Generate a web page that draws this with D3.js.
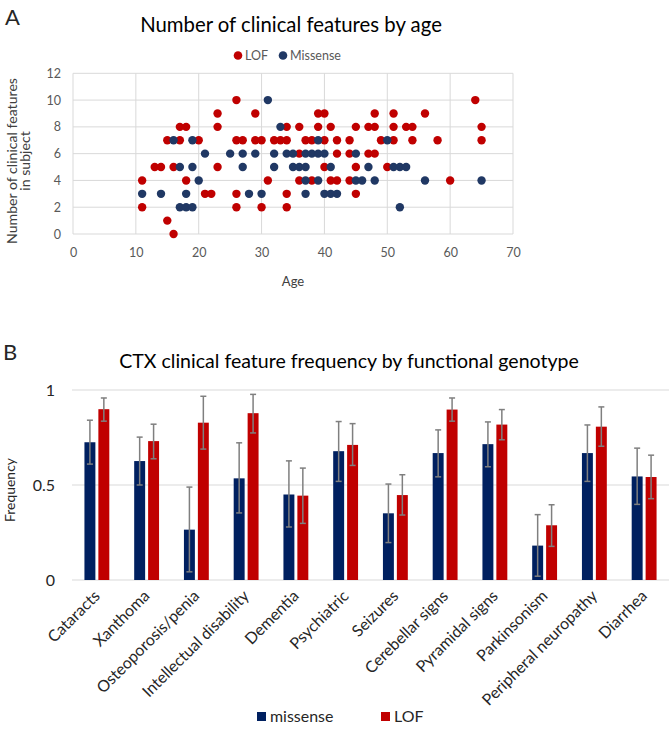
<!DOCTYPE html>
<html><head><meta charset="utf-8">
<script src="https://cdn.jsdelivr.net/npm/d3@7"></script>
<style>body{margin:0;background:#fff} svg{display:block} text{font-family:Lato,"Open Sans",sans-serif}</style>
</head><body><svg id="c" width="669" height="733"></svg>
<script>
// ---------- Panel A data ----------
const lofAge   = [23,17,18,23,15,17,20,13,14,16,23,11,18,21,22,11,15,16,
                  26,29,39,40,34,36,39,41,45,47,26,27,29,30,32,33,34,37,38,40,42,44,36,42,44,47,40,45,31,36,38,41,42,44,26,34,45,26,30,34,
                  64,48,51,56,48,51,53,54,65,49,51,54,58,65,48,50,60];
const lofCount = [9,8,8,8,7,7,7,5,5,5,5,4,4,3,3,2,1,0,
                  10,9,9,9,8,8,8,8,8,8,7,7,7,7,7,7,7,7,7,7,7,7,6,6,6,6,5,5,4,4,4,4,4,4,3,3,3,2,2,2,
                  10,9,9,9,8,8,8,8,8,7,7,7,7,7,6,5,4];
const misAge   = [16,19,21,17,19,20,11,14,18,17,18,19,
                  31,33,39,25,27,29,32,34,35,37,38,39,40,45,27,32,35,36,37,41,47,37,39,45,46,28,30,37,40,41,42,
                  50,51,52,53,48,56,65,52];
const misCount = [7,7,6,5,5,4,3,3,3,2,2,2,
                  10,8,7,6,6,6,6,6,6,6,6,6,6,6,5,5,5,5,5,5,5,4,4,4,4,3,3,3,3,3,3,
                  7,5,5,5,4,4,4,2];
const ageTicks   = [0,10,20,30,40,50,60,70];
const countTicks = [0,2,4,6,8,10,12];

// ---------- Panel B data ----------
const categories = ["Cataracts","Xanthoma","Osteoporosis/penia","Intellectual disability","Dementia","Psychiatric",
                    "Seizures","Cerebellar signs","Pyramidal signs","Parkinsonism","Peripheral neuropathy","Diarrhea"];
const seriesNames  = ["missense","LOF"];
const missenseFreq = [0.725,0.626,0.265,0.535,0.450,0.678,0.351,0.668,0.715,0.181,0.668,0.545];
const missenseLow  = [0.610,0.500,0.043,0.353,0.279,0.519,0.197,0.543,0.596,0.020,0.519,0.398];
const missenseHigh = [0.841,0.752,0.489,0.722,0.627,0.834,0.505,0.790,0.832,0.344,0.816,0.694];
const lofFreq      = [0.899,0.731,0.828,0.878,0.444,0.711,0.447,0.897,0.818,0.288,0.807,0.542];
const lofLow       = [0.836,0.638,0.689,0.774,0.298,0.603,0.342,0.836,0.738,0.177,0.704,0.428];
const lofHigh      = [0.958,0.820,0.967,0.977,0.589,0.823,0.554,0.958,0.897,0.396,0.911,0.657];
const freqTicks    = [0,0.5,1];

const RED = "#C00000", NAVY_BAR = "#002060", NAVY_DOT = "#203864", GRID = "#d9d9d9";
const svg = d3.select("#c");

function fitWidth(sel, w){
  const fs = parseFloat(sel.attr("font-size"));
  const cur = sel.node().getComputedTextLength();
  sel.attr("font-size", fs*w/cur);
  return fs*w/cur;
}

// ================= Panel A =================
svg.append("text").attr("x",5).attr("y",25).attr("font-size",22).attr("fill","#262626").text("A");
const titleA = svg.append("text").attr("x",291).attr("y",32).attr("text-anchor","middle")
  .attr("font-size",17).attr("fill","#000").text("Number of clinical features by age");
fitWidth(titleA, 302);

const xS = d3.scaleLinear().domain([0,70]).range([73,513]);
const yS = d3.scaleLinear().domain([0,12]).range([234,73.3]);

const gA = svg.append("g");
gA.selectAll(".vg").data(ageTicks).join("line")
  .attr("x1",d=>xS(d)).attr("x2",d=>xS(d)).attr("y1",yS(0)).attr("y2",yS(12))
  .attr("stroke",GRID).attr("stroke-width",1);
gA.selectAll(".hg").data(countTicks).join("line")
  .attr("x1",xS(0)).attr("x2",xS(70)).attr("y1",d=>yS(d)).attr("y2",d=>yS(d))
  .attr("stroke",GRID).attr("stroke-width",1);

const axXA = svg.append("g").attr("transform",`translate(0,${yS(0)+14})`)
  .call(d3.axisBottom(xS).tickValues(ageTicks).tickSize(0).tickPadding(0));
axXA.select(".domain").remove();
axXA.selectAll("text").attr("font-size",12.5).attr("fill","#595959").attr("dy","0.71em")
  .style("font-family","Lato, sans-serif");

const axYA = svg.append("g").attr("transform",`translate(61,0)`)
  .call(d3.axisLeft(yS).tickValues(countTicks).tickSize(0).tickPadding(0));
axYA.select(".domain").remove();
axYA.selectAll("text").attr("font-size",12.5).attr("fill","#595959")
  .style("font-family","Lato, sans-serif");

svg.append("text").attr("x",293).attr("y",286).attr("text-anchor","middle")
  .attr("font-size",13).attr("fill","#404040").text("Age");

const yt1 = svg.append("text").attr("transform","translate(17,161) rotate(-90)").attr("text-anchor","middle")
  .attr("font-size",13).attr("fill","#404040").text("Number of clinical features");
const fsY = fitWidth(yt1, 166);
svg.append("text").attr("transform","translate(30,161) rotate(-90)").attr("text-anchor","middle")
  .attr("font-size",fsY).attr("fill","#404040").text("in subject");

const lofPts = lofAge.map((a,i)=>({a, c:lofCount[i]}));
const misPts = misAge.map((a,i)=>({a, c:misCount[i]}));
gA.append("g").selectAll("circle").data(lofPts).join("circle")
  .attr("cx",d=>xS(d.a)).attr("cy",d=>yS(d.c)).attr("r",4.2).attr("fill",RED);
gA.append("g").selectAll("circle").data(misPts).join("circle")
  .attr("cx",d=>xS(d.a)).attr("cy",d=>yS(d.c)).attr("r",4.2).attr("fill",NAVY_DOT);

// legend A
const legA = svg.append("g");
legA.append("circle").attr("cx",238).attr("cy",55.5).attr("r",4.3).attr("fill",RED);
legA.append("text").attr("x",245).attr("y",60).attr("font-size",12.5).attr("fill","#595959").text("LOF");
legA.append("circle").attr("cx",283).attr("cy",55.5).attr("r",4.3).attr("fill",NAVY_DOT);
legA.append("text").attr("x",290).attr("y",60).attr("font-size",12.5).attr("fill","#595959").text("Missense");

// ================= Panel B =================
svg.append("text").attr("x",3).attr("y",360).attr("font-size",22).attr("fill","#262626").text("B");
const titleB = svg.append("text").attr("x",349).attr("y",368).attr("text-anchor","middle")
  .attr("font-size",18).attr("fill","#000").text("CTX clinical feature frequency by functional genotype");
fitWidth(titleB, 460);

const x0 = d3.scaleBand().domain(categories).range([72,669]).paddingInner(0.5).paddingOuter(0.25);
const x1 = d3.scaleBand().domain(seriesNames).range([0,x0.bandwidth()]).paddingInner(0.214);
const yB = d3.scaleLinear().domain([0,1]).range([580,390]);

const gB = svg.append("g");
gB.selectAll("line.g").data(freqTicks).join("line")
  .attr("x1",72).attr("x2",669).attr("y1",d=>yB(d)).attr("y2",d=>yB(d))
  .attr("stroke",GRID).attr("stroke-width",1.2);

const axYB = svg.append("g").attr("transform","translate(55,0)")
  .call(d3.axisLeft(yB).tickValues(freqTicks).tickFormat(d3.format("")).tickSize(0).tickPadding(0));
axYB.select(".domain").remove();
axYB.selectAll("text").attr("font-size",16).attr("fill","#262626").style("font-family","Lato, sans-serif");

const fq = svg.append("text").attr("transform","translate(15,490) rotate(-90)").attr("text-anchor","middle")
  .attr("font-size",13).attr("fill","#262626").text("Frequency");
fitWidth(fq, 64);

const rows = categories.map((c,i)=>({
  c, vals:[{s:"missense",v:missenseFreq[i],lo:missenseLow[i],hi:missenseHigh[i]},
           {s:"LOF",v:lofFreq[i],lo:lofLow[i],hi:lofHigh[i]}]}));
const color = d3.scaleOrdinal().domain(seriesNames).range([NAVY_BAR,RED]);

const grp = gB.selectAll("g.cat").data(rows).join("g").attr("class","cat")
  .attr("transform",d=>`translate(${x0(d.c)},0)`);
grp.selectAll("rect").data(d=>d.vals).join("rect")
  .attr("x",d=>x1(d.s)).attr("width",x1.bandwidth())
  .attr("y",d=>yB(d.v)).attr("height",d=>yB(0)-yB(d.v)).attr("fill",d=>color(d.s));
const eb = grp.selectAll("g.eb").data(d=>d.vals).join("g").attr("class","eb")
  .attr("stroke","#7f7f7f").attr("stroke-width",1.5);
eb.append("line").attr("x1",d=>x1(d.s)+x1.bandwidth()/2).attr("x2",d=>x1(d.s)+x1.bandwidth()/2)
  .attr("y1",d=>yB(d.lo)).attr("y2",d=>yB(d.hi));
eb.append("line").attr("x1",d=>x1(d.s)+x1.bandwidth()/2-3).attr("x2",d=>x1(d.s)+x1.bandwidth()/2+3)
  .attr("y1",d=>yB(d.hi)).attr("y2",d=>yB(d.hi));
eb.append("line").attr("x1",d=>x1(d.s)+x1.bandwidth()/2-3).attr("x2",d=>x1(d.s)+x1.bandwidth()/2+3)
  .attr("y1",d=>yB(d.lo)).attr("y2",d=>yB(d.lo));

// category labels
const labs = svg.append("g").selectAll("text").data(categories).join("text")
  .attr("transform",d=>`translate(${x0(d)+x0.bandwidth()/2+4},597) rotate(-45)`)
  .attr("text-anchor","end").attr("font-size",16).attr("fill","#262626").text(d=>d);
const ref = labs.filter(d=>d==="Intellectual disability");
const fsLab = 16*143/ref.node().getComputedTextLength();
labs.attr("font-size",fsLab);

// legend B
const legB = svg.append("g");
legB.append("rect").attr("x",257).attr("y",712).attr("width",9).attr("height",9).attr("fill",NAVY_BAR);
legB.append("text").attr("x",270).attr("y",722).attr("font-size",fsLab).attr("fill","#262626").text("missense");
legB.append("rect").attr("x",381).attr("y",712).attr("width",9).attr("height",9).attr("fill",RED);
legB.append("text").attr("x",394).attr("y",722).attr("font-size",fsLab).attr("fill","#262626").text("LOF");
</script></body></html>
